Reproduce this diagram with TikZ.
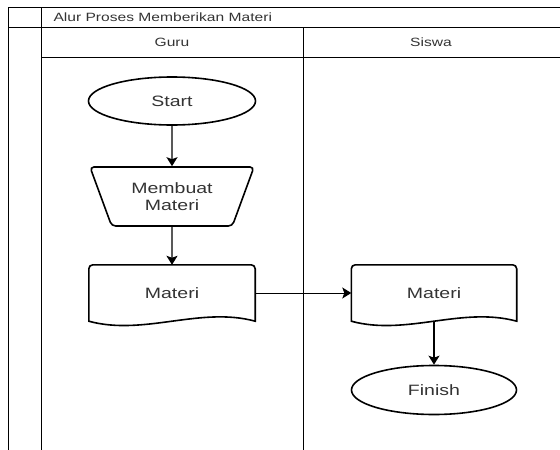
\documentclass[tikz,border=0pt]{standalone}
\usepackage{fontspec}
\setmainfont{Liberation Sans}[FakeStretch=1.3]
\usetikzlibrary{shapes.geometric,arrows.meta,calc}
\definecolor{teks}{HTML}{333333}
\tikzset{
	garis/.style={line width=1pt, draw=black},
	bentuk/.style={line width=1.6pt, draw=black, text=teks, font=\fontsize{15}{17}\selectfont},
	terminal/.style={bentuk, ellipse, inner sep=0pt},
	dokumen/.style={text=teks, font=\fontsize{15}{17}\selectfont, minimum width=166, minimum height=56, inner sep=0pt},
	panah/.style={line width=1.3pt, -{Stealth[length=9pt,width=11pt,inset=2pt]}},
	judul/.style={text=teks, font=\fontsize{12}{14}\selectfont}
}
\begin{document}
\begin{tikzpicture}[x=1pt, y=-1pt]
	\useasboundingbox (0,0) rectangle (560,450);
	% Swimlane
	\draw[garis] (8,7) -- (560,7);
	\draw[garis] (8,27) -- (560,27);
	\draw[garis] (41,57) -- (560,57);
	\draw[garis] (8,7) -- (8,450);
	\draw[garis] (41,7) -- (41,450);
	\draw[garis] (303,27) -- (303,450);
	% Judul
	\node[judul, anchor=west] (judul) at (50,17) {Alur Proses Memberikan Materi};
	\node[judul] (guru) at (172,42) {Guru};
	\node[judul] (siswa) at (431,42) {Siswa};
	% Guru
	\node[terminal, minimum width=167, minimum height=48] (start) at (172,101) {Start};
	\node[bentuk, trapezium, shape border rotate=180, trapezium stretches body,
		trapezium left angle=58, trapezium right angle=58, minimum width=164,
		minimum height=59, rounded corners=4pt, align=center] (buat) at (172,196.5) {Membuat\\Materi};
	\node[dokumen] (materiG) at (172,293) {Materi};
	\draw[bentuk] (materiG.south west) [rounded corners=4pt] -- (materiG.north west)
		-- (materiG.north east) [sharp corners] -- (materiG.south east)
		.. controls ($(materiG.south east)+(-55,-15)$) and ($(materiG.south west)+(55,15)$)
		.. (materiG.south west) -- cycle;
	% Siswa
	\node[dokumen, minimum width=165] (materiS) at (434,293) {Materi};
	\draw[bentuk] (materiS.south west) [rounded corners=4pt] -- (materiS.north west)
		-- (materiS.north east) [sharp corners] -- (materiS.south east)
		.. controls ($(materiS.south east)+(-55,-15)$) and ($(materiS.south west)+(55,15)$)
		.. (materiS.south west) -- cycle;
	\node[terminal, minimum width=165, minimum height=49] (finish) at (434,390) {Finish};
	% Panah
	\draw[panah] (start) -- (buat);
	\draw[panah] (buat) -- (materiG);
	\draw[panah, line width=1pt] (materiG) -- (materiS);
	\draw[panah] (materiS) -- (finish);
\end{tikzpicture}
\end{document}
